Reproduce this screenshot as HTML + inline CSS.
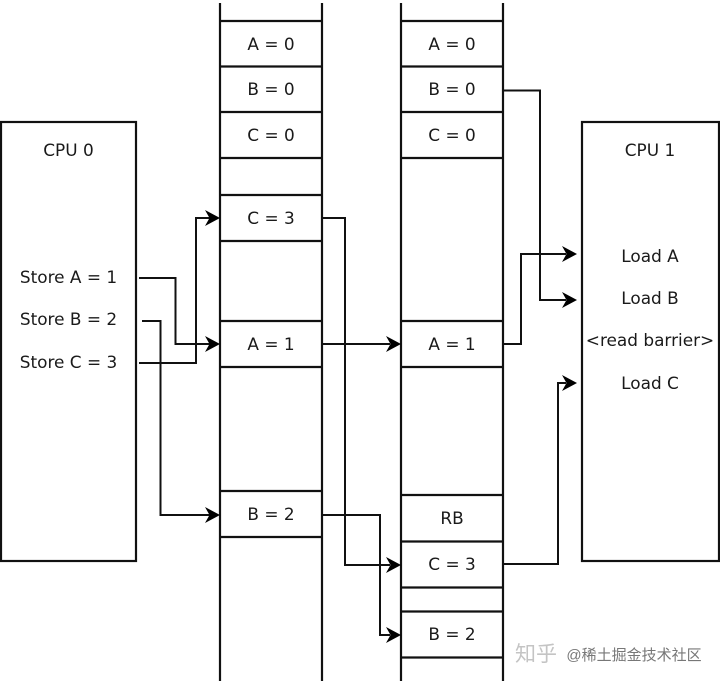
<!DOCTYPE html>
<html><head><meta charset="utf-8">
<style>
html,body{margin:0;padding:0;background:#fff}
svg{display:block}
text{font-family:"DejaVu Sans","Liberation Sans",sans-serif;font-size:16.900px;fill:#1a1a1a;text-anchor:middle}
.l{fill:none;stroke:#111;stroke-width:2.200}
.c{fill:none;stroke:#111;stroke-width:2}
</style></head>
<body>
<svg width="720" height="683" viewBox="0 0 720 683" xmlns="http://www.w3.org/2000/svg">
<defs><path id="a" d="M0 0l-15-8 4.500 8-4.500 8z" fill="#000"/></defs>
<rect width="720" height="683" fill="#fff"/>
<rect class="l" x="1" y="122" width="135" height="439"/>
<rect class="l" x="582" y="122" width="137" height="439"/>
<path class="l" d="M220 3V681M322 3V681M401 3V681M503 3V681"/>
<path class="l" d="M220 21H322M220 66.500H322M220 112H322M220 158H322M220 195H322M220 241H322M220 321H322M220 367H322M220 491H322M220 537H322"/>
<path class="l" d="M401 21H503M401 66.500H503M401 112H503M401 158H503M401 321H503M401 367H503M401 495H503M401 541.500H503M401 587.500H503M401 611.500H503M401 657.500H503"/>
<path class="c" d="M139 278H175.500V344H210M142 321H160.500V515H210M139 363H196V218H210M322 218H345V565H390M322 344H390M322 515H380V635H390M503 90.500H540V300H566M503 344H521V254H566M503 564H558V383H566"/>
<use href="#a" x="220" y="344"/><use href="#a" x="220" y="515"/><use href="#a" x="220" y="218"/>
<use href="#a" x="401" y="565"/><use href="#a" x="401" y="344"/><use href="#a" x="401" y="635"/>
<use href="#a" x="577" y="254"/><use href="#a" x="577" y="300"/><use href="#a" x="577" y="383"/>
<text x="68.500" y="156">CPU 0</text>
<text x="68.500" y="283">Store A = 1</text>
<text x="68.500" y="325">Store B = 2</text>
<text x="68.500" y="368">Store C = 3</text>
<text x="650" y="156">CPU 1</text>
<text x="650" y="262">Load A</text>
<text x="650" y="304">Load B</text>
<text x="650" y="346">&lt;read barrier&gt;</text>
<text x="650" y="389">Load C</text>
<text x="271" y="50">A = 0</text><text x="271" y="95">B = 0</text><text x="271" y="141">C = 0</text>
<text x="271" y="224">C = 3</text><text x="271" y="350">A = 1</text><text x="271" y="520">B = 2</text>
<text x="452" y="50">A = 0</text><text x="452" y="95">B = 0</text><text x="452" y="141">C = 0</text>
<text x="452" y="350">A = 1</text><text x="452" y="524">RB</text><text x="452" y="570">C = 3</text><text x="452" y="640">B = 2</text>
<text x="536" y="661" style="font-family:'Noto Sans CJK SC',sans-serif;font-size:21px;fill:#c4c4c4">知乎</text>
<text x="634" y="660" style="font-family:'Liberation Sans','Noto Sans CJK SC',sans-serif;font-size:15px;fill:#777">@稀土掘金技术社区</text>
</svg>
</body></html>
